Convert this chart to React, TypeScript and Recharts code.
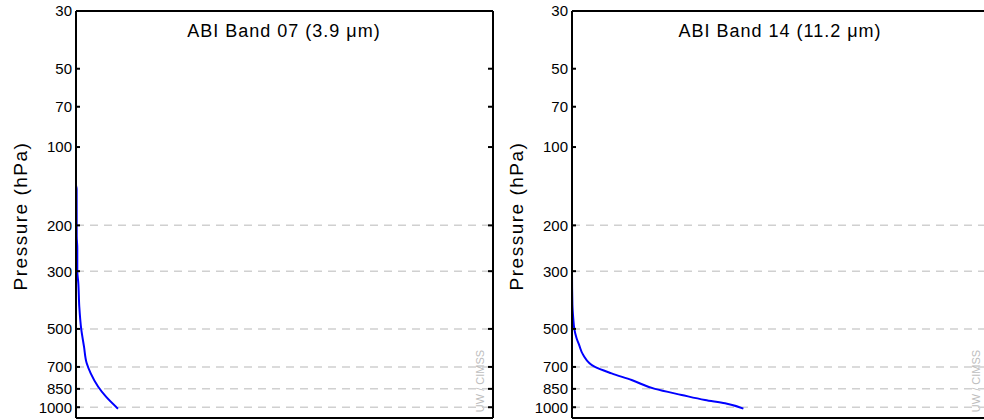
import { LineChart, Line, XAxis, YAxis, ReferenceLine } from 'recharts';

// pressure axis (hPa)
const pressureTicks = [30, 50, 70, 100, 200, 300, 500, 700, 850, 1000];
const gridLevels = [200, 300, 500, 700, 850, 1000];

// ABI band 07 weighting function
const band07Pressure = [30, 100, 140, 145, 220, 245, 300, 333, 411, 500, 585, 678, 741, 834, 911, 1013];
const band07Weight = [0, 0, 0, 0.15, 0.17, 0.31, 0.31, 0.55, 0.79, 1.25, 1.92, 2.57, 3.53, 5.32, 7.19, 10.07];

// ABI band 14 weighting function
const band14Pressure = [30, 300, 404, 455, 500, 543, 576, 630, 700, 741, 786, 850, 897, 938, 966, 1013];
const band14Weight = [0, 0, 0.1, 0.3, 0.55, 1.1, 1.7, 2.7, 5.5, 9.5, 14.3, 19.9, 26.3, 31.9, 36.7, 41.1];

const FONT = '"Liberation Sans", Arial, Helvetica, sans-serif';
const AXIS = { stroke: '#000', strokeWidth: 2 };

function toRows(p: number[], w: number[]) {
  return p.map((v, i) => ({ p: v, w: w[i] }));
}

// right border keeps its tick marks but no labels
const NoLabel = () => <g />;

interface PanelProps {
  title: string;
  data: { p: number; w: number }[];
  left: number;
}

function ProfilePanel({ title, data, left }: PanelProps) {
  return (
    <div style={{ position: 'absolute', left, top: 0 }}>
      <LineChart
        width={500}
        height={420}
        data={data}
        layout="vertical"
        margin={{ top: 10, right: 6, bottom: 1, left: 0 }}
      >
        <XAxis xAxisId="bottom" type="number" domain={[0, 100]} orientation="bottom" height={1}
          tick={false} tickLine={false} axisLine={AXIS} />
        <XAxis xAxisId="top" type="number" domain={[0, 100]} orientation="top" height={1}
          tick={false} tickLine={false} axisLine={AXIS} />
        <YAxis
          yAxisId="left"
          type="number"
          dataKey="p"
          scale="log"
          domain={[30, 1100]}
          ticks={pressureTicks}
          interval={0}
          width={76}
          tickSize={-4}
          tickMargin={8}
          tick={{ fill: '#000', fontSize: 15, fontFamily: FONT }}
          tickLine={AXIS}
          axisLine={AXIS}
        />
        <YAxis
          yAxisId="right"
          orientation="right"
          type="number"
          dataKey="p"
          scale="log"
          domain={[30, 1100]}
          ticks={pressureTicks}
          interval={0}
          width={1}
          tickSize={-5}
          tick={<NoLabel />}
          tickLine={AXIS}
          axisLine={AXIS}
        />
        {gridLevels.map((v) => (
          <ReferenceLine key={v} xAxisId="bottom" yAxisId="left" y={v}
            stroke="#d0d0d0" strokeWidth={1.5} strokeDasharray="8 6" />
        ))}
        <Line
          xAxisId="bottom"
          yAxisId="left"
          dataKey="w"
          type="monotone"
          stroke="#0000ff"
          strokeWidth={2}
          dot={false}
          isAnimationActive={false}
        />
        <text x={284} y={37} textAnchor="middle" fontSize={18} letterSpacing={1}
          fontFamily={FONT} fill="#000">{title}</text>
        <text x={20} y={216} transform="rotate(-90, 20, 216)" textAnchor="middle"
          dominantBaseline="central" fontSize={19} letterSpacing={1.5} fontFamily={FONT} fill="#000">
          Pressure (hPa)
        </text>
        <text x={480} y={381} transform="rotate(-90, 480, 381)" textAnchor="middle"
          dominantBaseline="central" fontSize={11} fontFamily={FONT} fill="#bdbdbd">
          UW / CIMSS
        </text>
      </LineChart>
    </div>
  );
}

export default function App() {
  return (
    <div style={{ position: 'absolute', left: 0, top: 0, width: 984, height: 420, overflow: 'hidden', background: '#fff' }}>
      <ProfilePanel title="ABI Band 07 (3.9 μm)" data={toRows(band07Pressure, band07Weight)} left={0} />
      <ProfilePanel title="ABI Band 14 (11.2 μm)" data={toRows(band14Pressure, band14Weight)} left={496} />
    </div>
  );
}
